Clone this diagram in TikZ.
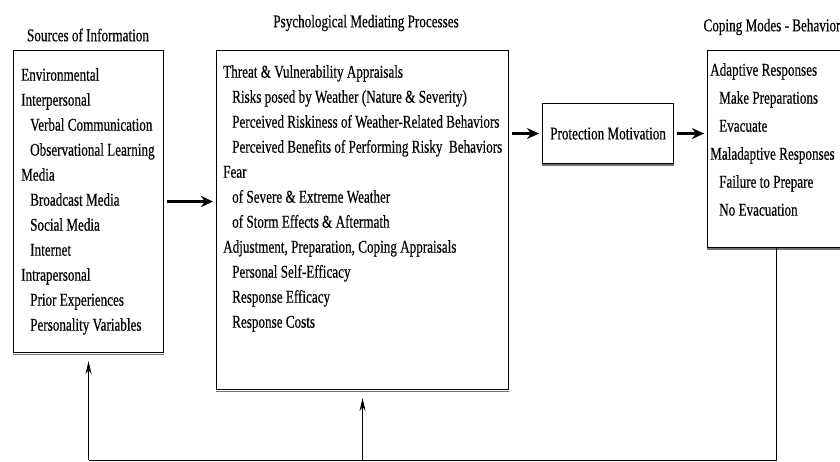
\documentclass[tikz,border=0pt]{standalone}
\usepackage{fontspec}
\setmainfont{Liberation Serif}[FakeStretch=0.73,FakeBold=0.4]
\usetikzlibrary{arrows.meta,positioning}

\tikzset{
  frame/.style={draw, line width=1.1pt, inner sep=0pt, anchor=north west},
  shade line/.style={draw=black!55, line width=1.6pt},
  list/.style={anchor=north west, align=left, inner sep=0pt, font=\fontsize{18}{25}\selectfont},
  heading/.style={inner sep=0pt, font=\fontsize{18}{20}\selectfont},
  flow/.style={-{Stealth[length=12pt,width=11pt]}, line width=2.2pt, shorten <=3pt, shorten >=3pt},
  back/.style={-{Stealth[length=13pt,width=6pt]}, line width=1pt, shorten >=8pt},
}
\newcommand{\indt}{\hspace*{9pt}}

\begin{document}
\begin{tikzpicture}[x=1pt,y=-1pt]
  \clip (0,0) rectangle (840,462);
  % boxes
  \node[frame, minimum width=150pt, minimum height=302pt] (src) at (13,50) {};
  \node[frame, minimum width=292pt, minimum height=339pt] (mid) at (216,50) {};
  \node[frame, minimum width=131pt, minimum height=60pt] (pm) at (542,103) {};
  \node[frame, minimum width=150pt, minimum height=197pt] (cope) at (707,50) {};
  \foreach \b in {src,mid,pm,cope}
    \draw[shade line] ([yshift=-1.2pt]\b.south west) -- ([yshift=-1.2pt]\b.south east);
  % headings
  \node[heading] (srctitle) at (88,35) {Sources of Information};
  \node[heading] (midtitle) at (366,23) {Psychological Mediating Processes};
  \node[heading] (copetitle) at (772,27) {Coping Modes - Behavior};
  % texts
  \node[list] (srclist) at ([shift={(8,18)}]src.north west) {Environmental\\Interpersonal\\
    \indt Verbal Communication\\\indt Observational Learning\\Media\\
    \indt Broadcast Media\\\indt Social Media\\\indt Internet\\Intrapersonal\\
    \indt Prior Experiences\\\indt Personality Variables};
  \node[list] (midlist) at ([shift={(7,15)}]mid.north west) {Threat \& Vulnerability Appraisals\\
    \indt Risks posed by Weather (Nature \& Severity)\\
    \indt Perceived Riskiness of Weather-Related Behaviors\\
    \indt Perceived Benefits of Performing Risky\ \ Behaviors\\Fear\\
    \indt of Severe \& Extreme Weather\\\indt of Storm Effects \& Aftermath\\
    Adjustment, Preparation, Coping Appraisals\\
    \indt Personal Self-Efficacy\\\indt Response Efficacy\\\indt Response Costs};
  \node[heading] (pmtext) at (pm.center) {Protection Motivation};
  \node[list, font=\fontsize{18}{28}\selectfont] (copelist) at ([shift={(3,13)}]cope.north west) {Adaptive Responses\\
    \indt Make Preparations\\\indt Evacuate\\Maladaptive Responses\\
    \indt Failure to Prepare\\\indt No Evacuation};
  % arrows
  \draw[flow] (src.east) -- (src.east -| mid.west);
  \draw[flow] (mid.east |- pm.west) -- (pm.west);
  \draw[flow] (pm.east) -- (pm.east -| cope.west);
  % feedback
  \coordinate (turn) at (776,460);
  \draw[line width=1pt] (cope.south -| turn) -- (turn) -- (turn -| src.south);
  \draw[back] (turn -| src.south) -- (src.south);
  \draw[back] (turn -| mid.south) -- (mid.south);
\end{tikzpicture}
\end{document}
